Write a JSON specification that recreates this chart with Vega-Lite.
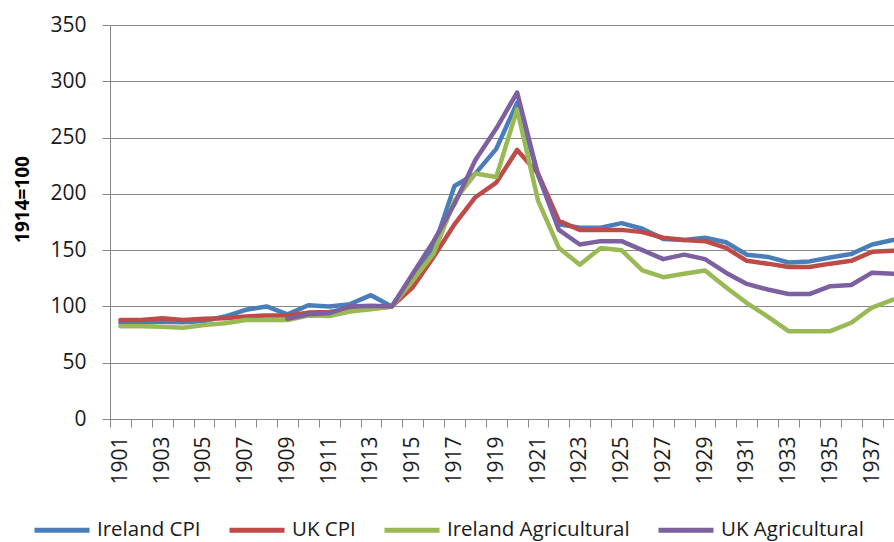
{
  "$schema": "https://vega.github.io/schema/vega-lite/v6.json",
  "width": 784,
  "height": 394,
  "autosize": {"type": "none"},
  "padding": {"left": 110, "top": 25, "right": 0, "bottom": 123},
  "background": "white",
  "config": {
    "view": {"stroke": null},
    "axis": {
      "domainColor": "#868686",
      "tickColor": "#868686",
      "gridColor": "#868686",
      "labelFont": "Open Sans",
      "labelFontSize": 21,
      "labelColor": "#1a1a1a",
      "tickSize": 8
    }
  },
  "data": {
    "values": [
      {"year": 1901, "Ireland CPI": 85.5, "UK CPI": 88, "Ireland Agricultural": 82.5, "UK Agricultural": null},
      {"year": 1902, "Ireland CPI": 85.5, "UK CPI": 88, "Ireland Agricultural": 82.5, "UK Agricultural": null},
      {"year": 1903, "Ireland CPI": 86.5, "UK CPI": 89.5, "Ireland Agricultural": 82, "UK Agricultural": null},
      {"year": 1904, "Ireland CPI": 86, "UK CPI": 88, "Ireland Agricultural": 81, "UK Agricultural": null},
      {"year": 1905, "Ireland CPI": 87, "UK CPI": 89, "Ireland Agricultural": 83.5, "UK Agricultural": null},
      {"year": 1906, "Ireland CPI": 91, "UK CPI": 89.5, "Ireland Agricultural": 85, "UK Agricultural": null},
      {"year": 1907, "Ireland CPI": 97, "UK CPI": 91, "Ireland Agricultural": 88, "UK Agricultural": null},
      {"year": 1908, "Ireland CPI": 100, "UK CPI": 92, "Ireland Agricultural": 88, "UK Agricultural": null},
      {"year": 1909, "Ireland CPI": 93, "UK CPI": 92, "Ireland Agricultural": 88, "UK Agricultural": 89},
      {"year": 1910, "Ireland CPI": 101, "UK CPI": 94.5, "Ireland Agricultural": 92, "UK Agricultural": 93},
      {"year": 1911, "Ireland CPI": 100, "UK CPI": 95, "Ireland Agricultural": 91.5, "UK Agricultural": 94},
      {"year": 1912, "Ireland CPI": 102, "UK CPI": 97.5, "Ireland Agricultural": 95.5, "UK Agricultural": 100},
      {"year": 1913, "Ireland CPI": 110, "UK CPI": 98, "Ireland Agricultural": 97.5, "UK Agricultural": 100.5},
      {"year": 1914, "Ireland CPI": 100, "UK CPI": 100, "Ireland Agricultural": 100, "UK Agricultural": 100},
      {"year": 1915, "Ireland CPI": 127, "UK CPI": 117, "Ireland Agricultural": 123, "UK Agricultural": 129},
      {"year": 1916, "Ireland CPI": 152, "UK CPI": 144, "Ireland Agricultural": 147, "UK Agricultural": 158},
      {"year": 1917, "Ireland CPI": 207, "UK CPI": 173, "Ireland Agricultural": 194, "UK Agricultural": 191},
      {"year": 1918, "Ireland CPI": 218, "UK CPI": 197, "Ireland Agricultural": 218, "UK Agricultural": 230},
      {"year": 1919, "Ireland CPI": 240, "UK CPI": 210, "Ireland Agricultural": 215, "UK Agricultural": 258},
      {"year": 1920, "Ireland CPI": 281, "UK CPI": 239, "Ireland Agricultural": 275, "UK Agricultural": 290},
      {"year": 1921, "Ireland CPI": 217, "UK CPI": 218, "Ireland Agricultural": 194, "UK Agricultural": 217},
      {"year": 1922, "Ireland CPI": 173, "UK CPI": 176, "Ireland Agricultural": 152, "UK Agricultural": 168},
      {"year": 1923, "Ireland CPI": 170, "UK CPI": 168, "Ireland Agricultural": 137, "UK Agricultural": 155},
      {"year": 1924, "Ireland CPI": 170, "UK CPI": 168, "Ireland Agricultural": 152, "UK Agricultural": 158},
      {"year": 1925, "Ireland CPI": 174, "UK CPI": 168, "Ireland Agricultural": 150, "UK Agricultural": 158},
      {"year": 1926, "Ireland CPI": 169, "UK CPI": 166, "Ireland Agricultural": 132, "UK Agricultural": 150},
      {"year": 1927, "Ireland CPI": 160, "UK CPI": 161, "Ireland Agricultural": 126, "UK Agricultural": 142},
      {"year": 1928, "Ireland CPI": 159, "UK CPI": 159, "Ireland Agricultural": 129, "UK Agricultural": 146},
      {"year": 1929, "Ireland CPI": 161, "UK CPI": 158, "Ireland Agricultural": 132, "UK Agricultural": 142},
      {"year": 1930, "Ireland CPI": 157, "UK CPI": 152, "Ireland Agricultural": 117, "UK Agricultural": 130},
      {"year": 1931, "Ireland CPI": 146, "UK CPI": 140.5, "Ireland Agricultural": 103, "UK Agricultural": 120},
      {"year": 1932, "Ireland CPI": 144, "UK CPI": 138, "Ireland Agricultural": 91, "UK Agricultural": 115},
      {"year": 1933, "Ireland CPI": 139, "UK CPI": 135, "Ireland Agricultural": 78, "UK Agricultural": 111},
      {"year": 1934, "Ireland CPI": 140, "UK CPI": 135, "Ireland Agricultural": 78, "UK Agricultural": 111},
      {"year": 1935, "Ireland CPI": 143.5, "UK CPI": 138, "Ireland Agricultural": 78, "UK Agricultural": 118},
      {"year": 1936, "Ireland CPI": 146.5, "UK CPI": 140.5, "Ireland Agricultural": 85.5, "UK Agricultural": 119},
      {"year": 1937, "Ireland CPI": 155, "UK CPI": 148.5, "Ireland Agricultural": 99, "UK Agricultural": 130},
      {"year": 1938, "Ireland CPI": 159, "UK CPI": 149.5, "Ireland Agricultural": 106, "UK Agricultural": 129}
    ]
  },
  "transform": [
    {"fold": ["Ireland CPI", "UK CPI", "Ireland Agricultural", "UK Agricultural"], "as": ["series", "value"]}
  ],
  "mark": {"type": "line", "strokeWidth": 4.5, "strokeJoin": "round", "strokeCap": "round", "clip": true},
  "encoding": {
    "x": {
      "field": "year",
      "type": "quantitative",
      "scale": {"domain": [1900.5, 1938.05], "nice": false, "zero": false},
      "axis": {
        "title": null,
        "grid": false,
        "values": [1900.5, 1901, 1901.5, 1902.5, 1903, 1903.5, 1904.5, 1905, 1905.5, 1906.5, 1907, 1907.5, 1908.5, 1909, 1909.5, 1910.5, 1911, 1911.5, 1912.5, 1913, 1913.5, 1914.5, 1915, 1915.5, 1916.5, 1917, 1917.5, 1918.5, 1919, 1919.5, 1920.5, 1921, 1921.5, 1922.5, 1923, 1923.5, 1924.5, 1925, 1925.5, 1926.5, 1927, 1927.5, 1928.5, 1929, 1929.5, 1930.5, 1931, 1931.5, 1932.5, 1933, 1933.5, 1934.5, 1935, 1935.5, 1936.5, 1937, 1937.5],
        "labelExpr": "datum.value % 1 === 0 ? format(datum.value, 'd') : ''",
        "labelAngle": -90,
        "labelPadding": 9,
        "labelOverlap": false,
        "labelFlush": false,
        "tickOpacity": {"condition": {"test": "datum.value % 1 === 0", "value": 0}, "value": 1}
      }
    },
    "y": {
      "field": "value",
      "type": "quantitative",
      "scale": {"domain": [0, 350], "nice": false},
      "axis": {
        "title": "1914=100",
        "values": [0, 50, 100, 150, 200, 250, 300, 350],
        "grid": true,
        "labelPadding": 16,
        "titleFont": "Open Sans",
        "titleFontSize": 19,
        "titleFontWeight": "bold",
        "titleColor": "#000",
        "titleX": -88,
        "titleY": 174,
        "titleAlign": "center",
        "titleBaseline": "middle",
        "titleAngle": 270
      }
    },
    "color": {
      "field": "series",
      "type": "nominal",
      "scale": {
        "domain": ["Ireland CPI", "UK CPI", "Ireland Agricultural", "UK Agricultural"],
        "range": ["#4A7EBB", "#BE4B48", "#98B954", "#7D60A0"]
      },
      "legend": {
        "title": null,
        "orient": "none",
        "direction": "horizontal",
        "legendX": -78,
        "legendY": 475,
        "symbolType": "stroke",
        "symbolSize": 3025,
        "symbolStrokeWidth": 5,
        "labelFont": "Open Sans",
        "labelFontSize": 20.5,
        "labelColor": "#1a1a1a",
        "labelOffset": 5,
        "columnPadding": 18,
        "labelLimit": 400
      }
    }
  }
}
